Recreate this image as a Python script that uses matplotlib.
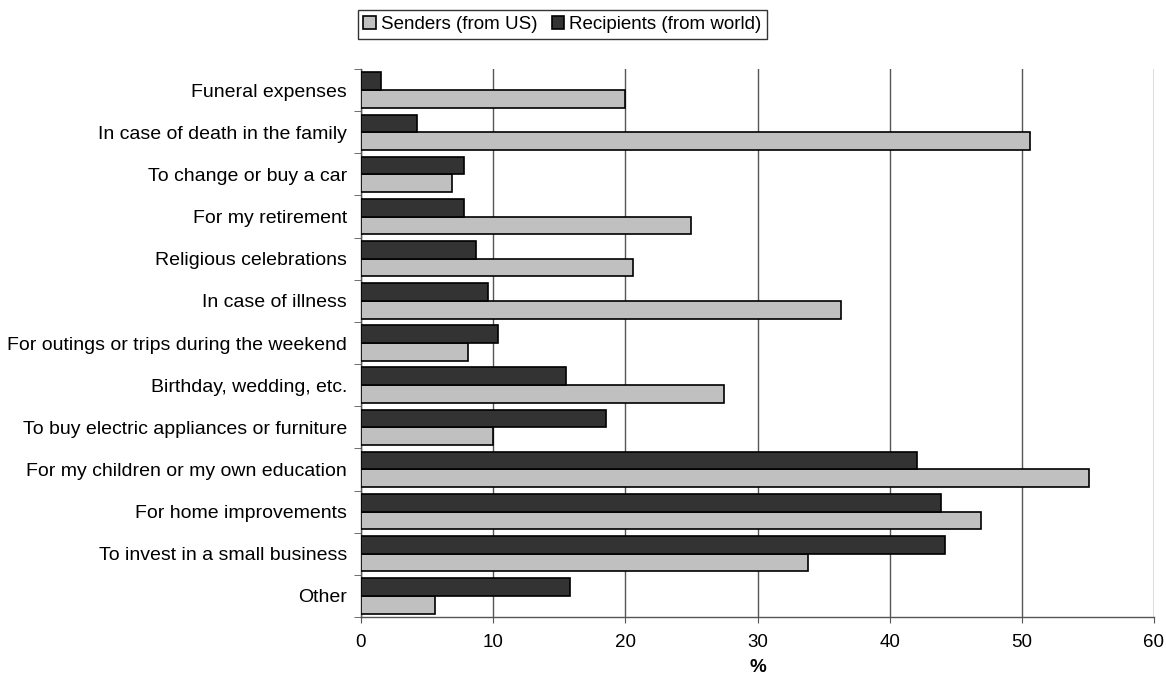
import matplotlib
matplotlib.use("Agg")
import matplotlib.pyplot as plt
import numpy as np

plt.rcParams['font.family'] = ['Liberation Sans', 'DejaVu Sans']

categories = [
    "Funeral expenses",
    "In case of death in the family",
    "To change or buy a car",
    "For my retirement",
    "Religious celebrations",
    "In case of illness",
    "For outings or trips during the weekend",
    "Birthday, wedding, etc.",
    "To buy electric appliances or furniture",
    "For my children or my own education",
    "For home improvements",
    "To invest in a small business",
    "Other",
]
senders_us = [20.0, 50.6, 6.9, 25.0, 20.6, 36.3, 8.1, 27.5, 10.0, 55.1, 46.9, 33.8, 5.6]
recipients_world = [1.5, 4.2, 7.8, 7.8, 8.7, 9.6, 10.4, 15.5, 18.5, 42.1, 43.9, 44.2, 15.8]

FS = 13.5

fig = plt.figure(figsize=(11.66, 6.77), dpi=100)
ax = fig.add_axes([361 / 1166, 1 - 617 / 677, (1154 - 361) / 1166, (617 - 69) / 677])

y = np.arange(len(categories))
h = 0.42
ax.barh(y + h / 2, senders_us, height=h, color="#C0C0C0", edgecolor="black",
        linewidth=1.2, label="Senders (from US)", zorder=3)
ax.barh(y - h / 2, recipients_world, height=h, color="#333333", edgecolor="black",
        linewidth=1.2, label="Recipients (from world)", zorder=3)

ax.set_xlim(0, 60)
ax.set_ylim(len(categories) - 0.5, -0.5)
ax.set_xticks(np.arange(0, 61, 10))
ax.set_yticks(y)
ax.set_yticklabels(categories, fontsize=14)
ax.set_yticks(np.arange(-0.5, len(categories), 1), minor=True)
ax.tick_params(axis='y', which='major', length=0, pad=10)
ax.tick_params(axis='y', which='minor', length=5, color="#555555", direction='out')
ax.tick_params(axis='x', which='major', length=4.5, color="#555555", direction='out',
               labelsize=FS, pad=7.5)
ax.xaxis.grid(True, color="#555555", linewidth=1.0, zorder=0)
ax.set_axisbelow(True)
for s in ("top", "right"):
    ax.spines[s].set_visible(False)
for s in ("left", "bottom"):
    ax.spines[s].set_color("#555555")
    ax.spines[s].set_linewidth(1.0)

ax.set_xlabel("%", fontsize=FS, fontweight="bold")
ax.xaxis.set_label_coords(0.5, -(659 - 617) / 548)

leg = fig.legend(loc="center", bbox_to_anchor=(562.5 / 1166, 1 - 24.5 / 677), ncol=2,
                 frameon=True, fancybox=False, fontsize=FS, handlelength=0.65,
                 handleheight=0.65, handletextpad=0.27, columnspacing=0.8,
                 borderpad=0.3, borderaxespad=0)
leg.get_frame().set_edgecolor("black")
leg.get_frame().set_linewidth(1.0)

fig.savefig("out.png", dpi=100)
